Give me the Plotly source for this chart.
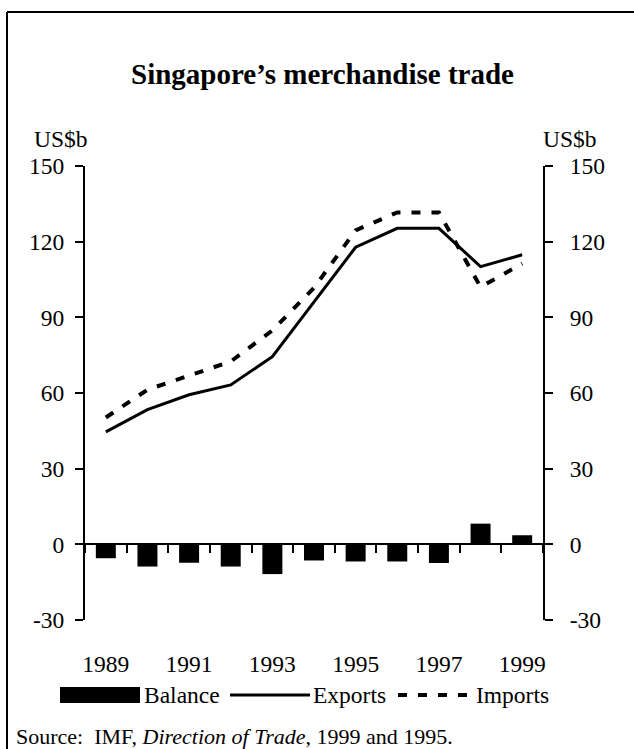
import plotly.graph_objects as go

years = [1989, 1990, 1991, 1992, 1993, 1994, 1995, 1996, 1997, 1998, 1999]
exports = [44.6, 53.4, 59.3, 63.2, 74.4, 96.3, 117.8, 125.3, 125.3, 110.1, 114.8]
imports = [50.3, 61.3, 66.9, 72.5, 84.8, 101.7, 124.5, 131.6, 131.6, 102.0, 111.3]
balance = [-5.5, -8.8, -7.3, -8.8, -11.8, -6.4, -6.8, -6.8, -7.4, 8.2, 3.6]
label_years = [1989, 1991, 1993, 1995, 1997, 1999]
y_ticks = [-30, 0, 30, 60, 90, 120, 150]
y_tick_text = ["-30", "0", "30", "60", "90", "120", "150"]

W, H = 634, 749
L, R, T, B = 85, 543, 166, 620
PW, PH = R - L, B - T
FONT = "Liberation Serif"


def px(x):
    return (x - L) / PW


def py(y):
    return (B - y) / PH


xr = [years[0] - 0.5, years[-1] + 0.5]
boundaries = [y - 0.5 for y in years] + [years[-1] + 0.5]
yr = [y_ticks[0], y_ticks[-1]]

fig = go.Figure()
fig.add_trace(go.Bar(x=years, y=balance, name="Balance", marker=dict(color="black", line=dict(width=0)),
                     xaxis="x2", yaxis="y"))
fig.add_trace(go.Scatter(x=years, y=exports, name="Exports", mode="lines",
                         line=dict(color="black", width=3), xaxis="x", yaxis="y"))
fig.add_trace(go.Scatter(x=years, y=imports, name="Imports", mode="lines",
                         line=dict(color="black", width=4, dash="9px,11px"), xaxis="x", yaxis="y2"))

axis_font = dict(family=FONT, size=23.5, color="black")

fig.update_layout(
    width=W, height=H,
    margin=dict(l=L, r=W - R, t=T, b=H - B, pad=0),
    paper_bgcolor="white", plot_bgcolor="white",
    showlegend=False,
    bargap=0.52,
    font=dict(family=FONT, color="black"),
    xaxis=dict(range=xr, tickvals=label_years, ticktext=[str(v) for v in label_years],
               showline=False, ticks="", showgrid=False, zeroline=False,
               tickfont=axis_font, ticklabelstandoff=27),
    xaxis2=dict(range=xr, overlaying="x", anchor="free", position=(0 - yr[0]) / (yr[1] - yr[0]),
                tickvals=boundaries, showticklabels=False, ticks="outside", ticklen=8, tickwidth=2,
                tickcolor="black", showline=True, linewidth=2, linecolor="black",
                showgrid=False, zeroline=False),
    yaxis=dict(range=yr, tickvals=y_ticks, ticktext=y_tick_text, ticks="outside", ticklen=8, tickwidth=2,
               tickcolor="black", showline=True, linewidth=2, linecolor="black", showgrid=False,
               zeroline=False, tickfont=axis_font, ticklabelstandoff=6),
    yaxis2=dict(range=yr, tickvals=y_ticks, ticktext=y_tick_text, overlaying="y", side="right", anchor="x",
                ticks="outside", ticklen=8, tickwidth=2, tickcolor="black",
                showline=True, linewidth=2, linecolor="black", showgrid=False, zeroline=False,
                tickfont=axis_font, ticklabelstandoff=12),
)

shapes = [
    # frame
    dict(type="line", xref="paper", yref="paper", x0=px(7), x1=px(7), y0=py(12), y1=py(749),
         line=dict(color="black", width=2)),
    dict(type="line", xref="paper", yref="paper", x0=px(7), x1=px(634), y0=py(12), y1=py(12),
         line=dict(color="black", width=2)),
    # legend symbols
    dict(type="rect", xref="paper", yref="paper", x0=px(60), x1=px(140), y0=py(703), y1=py(687),
         fillcolor="black", line=dict(width=0)),
    dict(type="line", xref="paper", yref="paper", x0=px(230), x1=px(310), y0=py(695), y1=py(695),
         line=dict(color="black", width=3)),
    dict(type="line", xref="paper", yref="paper", x0=px(398), x1=px(472), y0=py(695), y1=py(695),
         line=dict(color="black", width=4, dash="9px,11px")),
]

annotations = [
    dict(text="<b>Singapore’s merchandise trade</b>", x=px(322), y=py(74), xref="paper", yref="paper",
         xanchor="center", yanchor="middle", showarrow=False, font=dict(family=FONT, size=29, color="black")),
    dict(text="US$b", x=px(61), y=py(139), xref="paper", yref="paper", xanchor="center", yanchor="middle",
         showarrow=False, font=axis_font),
    dict(text="US$b", x=px(570), y=py(139), xref="paper", yref="paper", xanchor="center", yanchor="middle",
         showarrow=False, font=axis_font),
    dict(text="Balance", x=px(142), y=py(695), xref="paper", yref="paper", xanchor="left", yanchor="middle",
         showarrow=False, font=axis_font),
    dict(text="Exports", x=px(311), y=py(695), xref="paper", yref="paper", xanchor="left", yanchor="middle",
         showarrow=False, font=axis_font),
    dict(text="Imports", x=px(474), y=py(695), xref="paper", yref="paper", xanchor="left", yanchor="middle",
         showarrow=False, font=axis_font),
    dict(text="Source:  IMF, <i>Direction of Trade</i>, 1999 and 1995.", x=px(14), y=py(736),
         xref="paper", yref="paper", xanchor="left", yanchor="middle", showarrow=False,
         font=dict(family=FONT, size=22, color="black")),
]

fig.update_layout(shapes=shapes, annotations=annotations)
fig.write_html("out.html", config={"displayModeBar": False},
               post_script="document.body.style.margin='0';document.body.style.overflow='hidden';")
